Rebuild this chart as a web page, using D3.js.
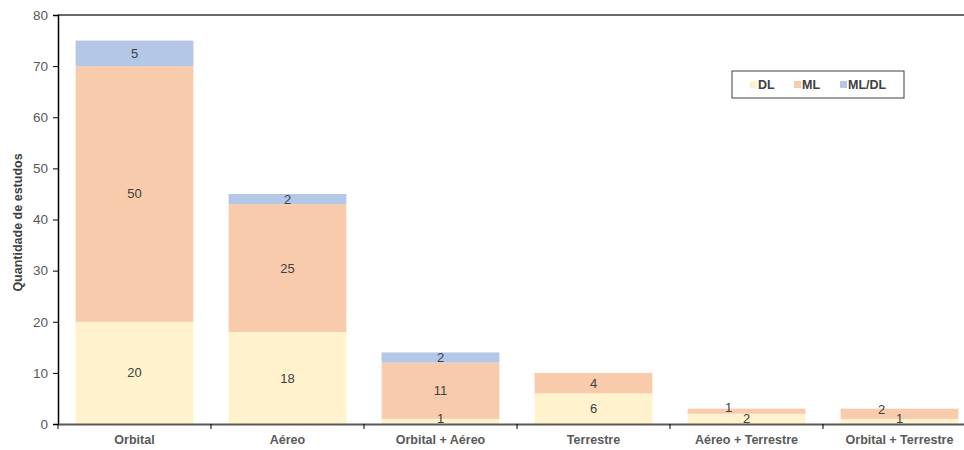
<!DOCTYPE html>
<html>
<head>
<meta charset="utf-8">
<script src="https://cdn.jsdelivr.net/npm/d3@7"></script>
<style>
  body { margin: 0; background: #fff; }
  text { font-family: "Liberation Sans", Arial, sans-serif; }
</style>
</head>
<body>
<script>
var categories = ["Orbital", "Aéreo", "Orbital + Aéreo", "Terrestre", "Aéreo + Terrestre", "Orbital + Terrestre"];
var seriesNames = ["DL", "ML", "ML/DL"];
var dlValues = [20, 18, 1, 6, 2, 1];
var mlValues = [50, 25, 11, 4, 1, 2];
var mldlValues = [5, 2, 2, 0, 0, 0];
var yTicks = [0, 10, 20, 30, 40, 50, 60, 70, 80];
var colors = ["#fff2cc", "#f8cbad", "#b4c7e7"];

var margin = {top: 15, right: -12, bottom: 26, left: 58},
    width = 964 - margin.left - margin.right,
    height = 450 - margin.top - margin.bottom;

var svg = d3.select("body").append("svg")
    .attr("width", 964)
    .attr("height", 450)
    .append("g")
    .attr("transform", "translate(" + margin.left + "," + margin.top + ")");

var rows = categories.map(function(c, i) {
  return {cat: c, "DL": dlValues[i], "ML": mlValues[i], "ML/DL": mldlValues[i]};
});
var stacked = d3.stack().keys(seriesNames)(rows);

var x = d3.scaleBand().domain(categories).range([0, width]).paddingInner(0.23).paddingOuter(0.115);
var y = d3.scaleLinear().domain([0, 80]).range([height, 0]);

// bars
stacked.forEach(function(layer, li) {
  svg.append("g").selectAll("rect")
    .data(layer.filter(function(d) { return d[1] - d[0] > 0; }))
    .enter().append("rect")
    .attr("x", function(d) { return x(d.data.cat); })
    .attr("width", x.bandwidth())
    .attr("y", function(d) { return y(d[1]); })
    .attr("height", function(d) { return y(d[0]) - y(d[1]); })
    .style("fill", colors[li]);
});

// labels
stacked.forEach(function(layer, li) {
  layer.forEach(function(d, i) {
    var v = d[1] - d[0];
    if (v <= 0) return;
    var h = y(d[0]) - y(d[1]);
    var cx = x(d.data.cat) + x.bandwidth() / 2;
    var cy = (y(d[0]) + y(d[1])) / 2;
    if (li > 0) {
      var prev = stacked[li - 1][i];
      if (h < 12 && y(prev[0]) - y(prev[1]) < 12) { cx -= 18; cy -= 4; }
    } else if (h < 8) {
      cy -= 3;
    }
    svg.append("text")
      .attr("x", cx)
      .attr("y", cy)
      .attr("dy", "0.35em")
      .attr("text-anchor", "middle")
      .attr("font-size", "13px")
      .attr("fill", "#404040")
      .text(v);
  });
});

// top border
svg.append("line")
  .attr("x1", 0).attr("x2", width + 20)
  .attr("y1", 0).attr("y2", 0)
  .style("stroke", "#6b6b6b").style("stroke-width", 2);

// y axis
var yAxis = svg.append("g").call(d3.axisLeft(y).tickValues(yTicks).tickSize(5).tickPadding(5));
yAxis.select(".domain").style("stroke", "#000").style("stroke-width", 1.5);
yAxis.selectAll(".tick line").style("stroke", "#000");
yAxis.selectAll("text").attr("font-size", "13.5px").attr("fill", "#595959")
  .style("font-family", "'Liberation Sans', Arial, sans-serif");

// x axis
var xAxis = svg.append("g").attr("transform", "translate(0," + height + ")")
  .call(d3.axisBottom(x).tickSize(0).tickPadding(11));
xAxis.select(".domain").style("stroke", "#595959").style("stroke-width", 2);
xAxis.selectAll("text").attr("font-size", "12.5px").attr("font-weight", "bold").attr("fill", "#595959")
  .style("font-family", "'Liberation Sans', Arial, sans-serif");
var step = x.step();
svg.append("g").selectAll("line")
  .data(categories)
  .enter().append("line")
  .attr("x1", function(d) { return x(d) - x.paddingInner() * step / 2; })
  .attr("x2", function(d) { return x(d) - x.paddingInner() * step / 2; })
  .attr("y1", height)
  .attr("y2", height + 5)
  .style("stroke", "#000");

// y label
svg.append("text")
  .attr("transform", "translate(" + (-36) + "," + (height / 2 + 3) + ") rotate(-90)")
  .attr("text-anchor", "middle")
  .attr("font-size", "12.5px")
  .attr("font-weight", "bold")
  .attr("fill", "#404040")
  .text("Quantidade de estudos");

// legend
var legend = svg.append("g").attr("transform", "translate(" + (732 - margin.left) + "," + (71 - margin.top) + ")");
legend.append("rect")
  .attr("width", 172).attr("height", 27)
  .style("fill", "#fff").style("stroke", "#404040").style("stroke-width", 1);
var legendX = [18, 62, 108];
seriesNames.forEach(function(s, i) {
  legend.append("rect")
    .attr("x", legendX[i]).attr("y", 10).attr("width", 7).attr("height", 7)
    .style("fill", colors[i]);
  legend.append("text")
    .attr("x", legendX[i] + 8).attr("y", 14)
    .attr("dy", "0.35em")
    .attr("font-size", "12.5px")
    .attr("font-weight", "bold")
    .attr("fill", "#404040")
    .text(s);
});
</script>
</body>
</html>
